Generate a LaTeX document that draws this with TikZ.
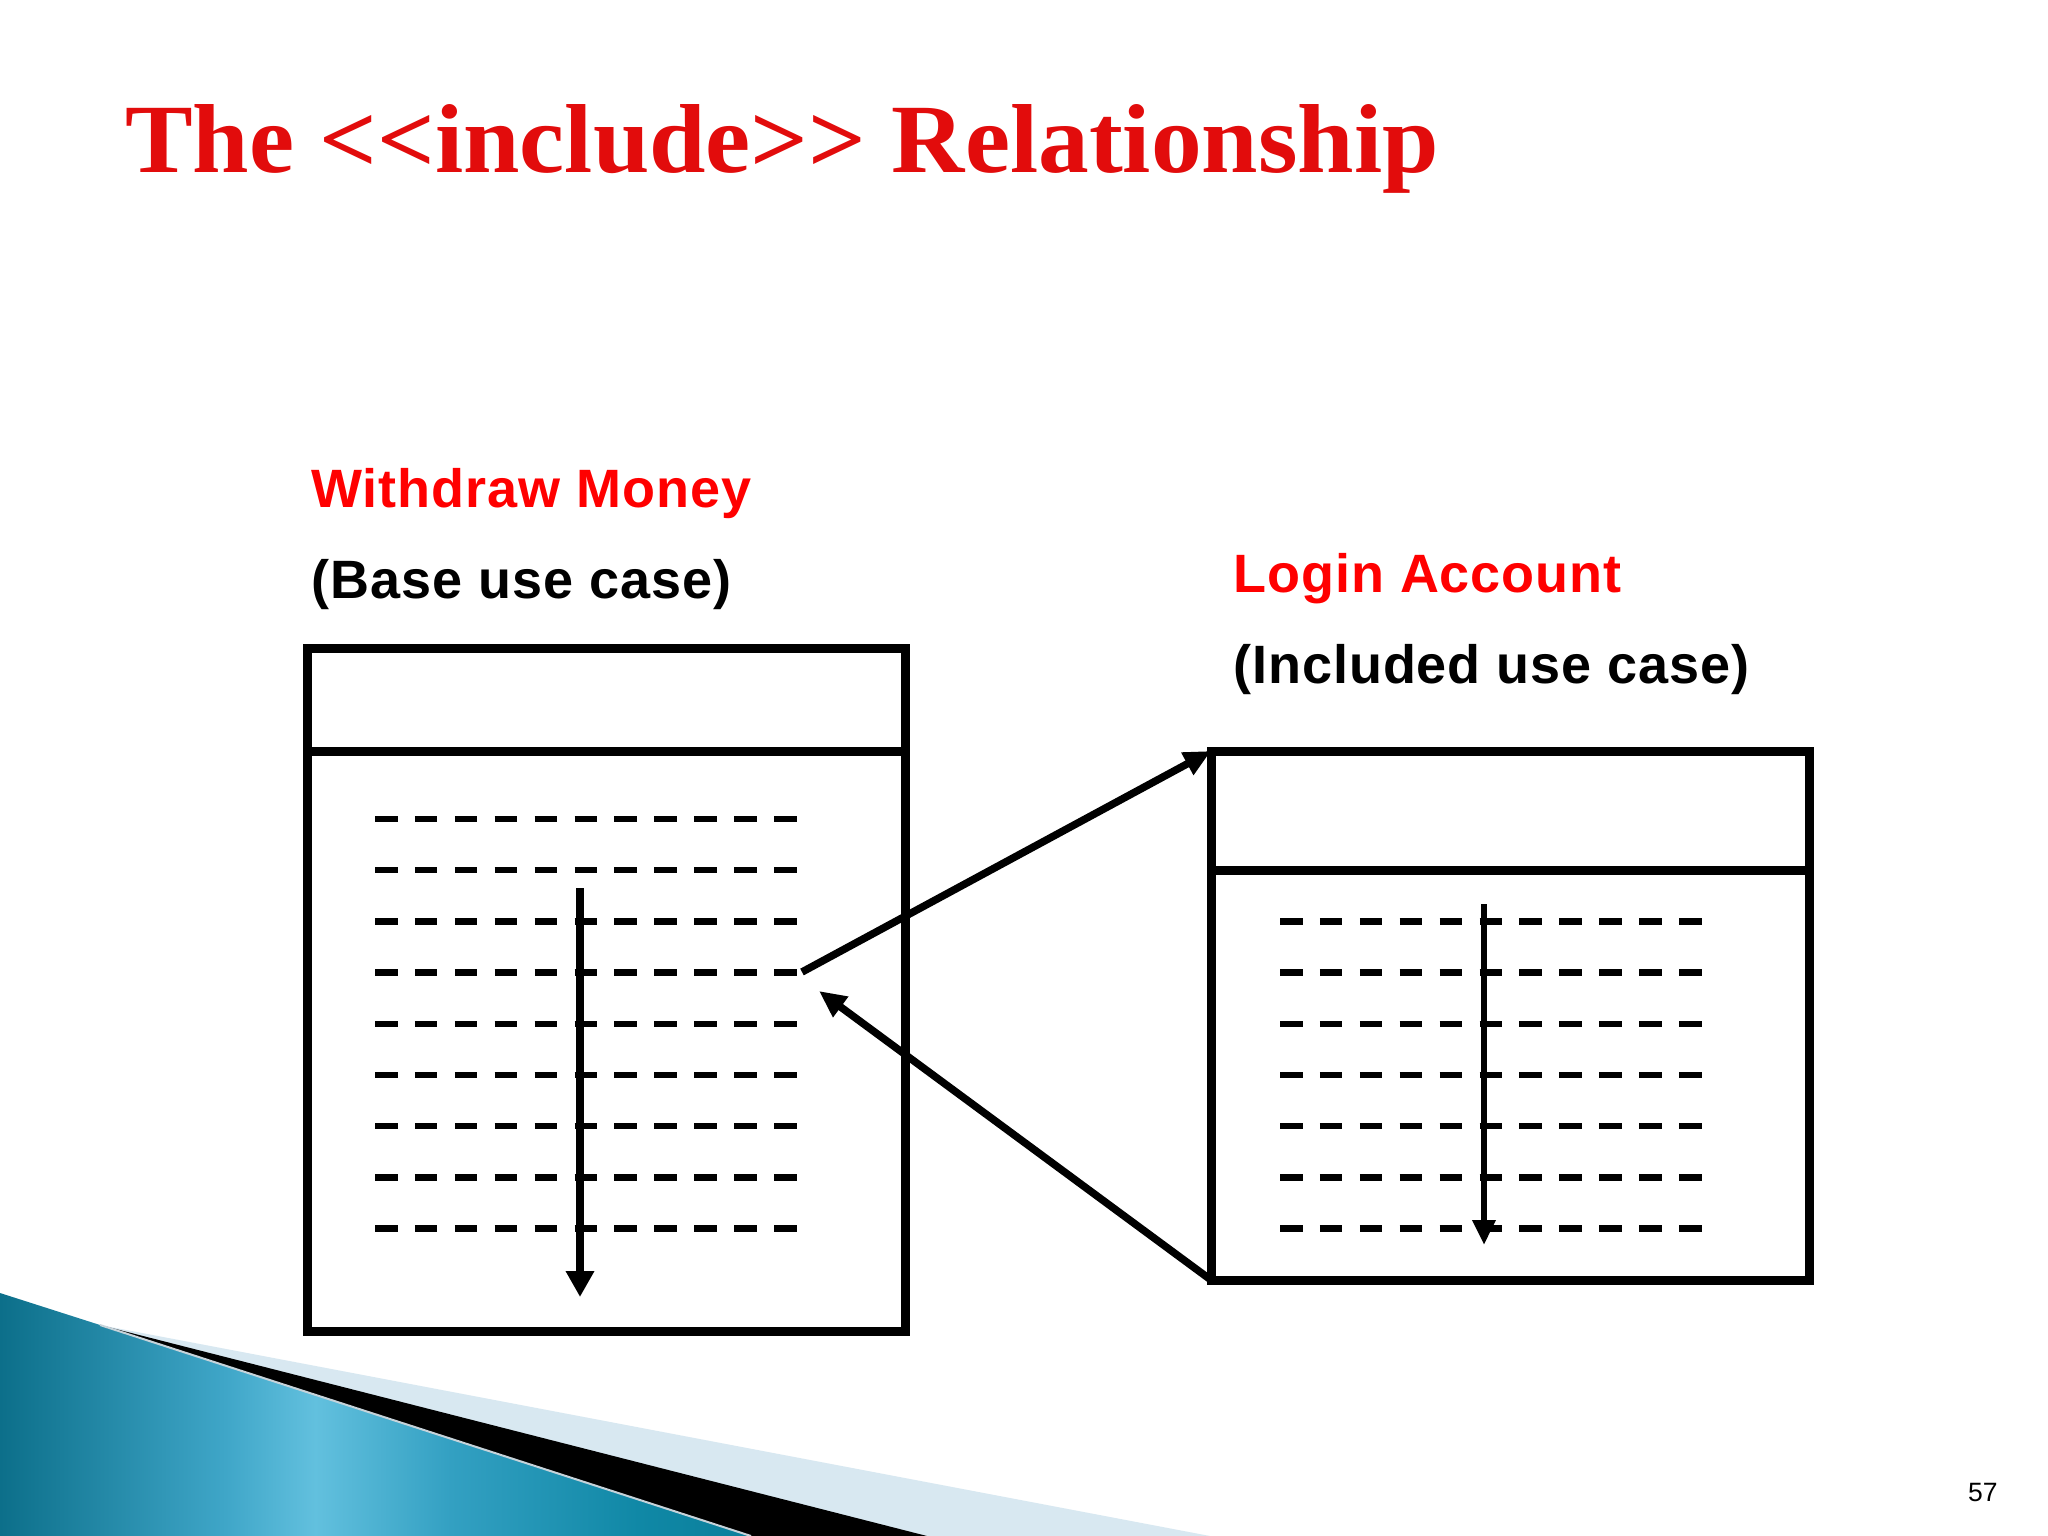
\documentclass[tikz,border=0pt]{standalone}
\usepackage{fontspec}
\setmainfont{Liberation Sans}
\newfontfamily\titlefont{Liberation Serif}
\newfontfamily\bodyfont[LetterSpace=1.8]{Liberation Sans}
\usetikzlibrary{arrows.meta}
\definecolor{titlered}{RGB}{226,12,12}
\definecolor{labelred}{RGB}{255,0,0}
\definecolor{tealA}{RGB}{12,111,138}
\definecolor{tealB}{RGB}{63,166,200}
\definecolor{tealC}{RGB}{98,192,222}
\definecolor{tealD}{RGB}{51,160,194}
\definecolor{tealE}{RGB}{16,136,166}
\definecolor{tealF}{RGB}{10,127,155}
\definecolor{paleblue}{RGB}{216,232,241}
\pgfdeclarehorizontalshading{tealshade}{100bp}{color(0bp)=(tealA); color(25bp)=(tealA); color(40bp)=(tealB); color(46bp)=(tealC); color(55bp)=(tealD); color(67.5bp)=(tealE); color(75bp)=(tealF); color(100bp)=(tealF)}
\tikzset{
  ucbox/.style={draw=black, line width=9pt, inner sep=0pt, outer sep=0pt, fill=white},
  divider/.style={line width=9pt},
  dashrow/.style={line width=6.5pt, dash pattern=on 22.5pt off 17.4pt},
  flow/.style={line width=8pt, -{Triangle[length=26pt,width=27pt]}},
  flowthin/.style={line width=6.5pt, -{Triangle[length=25pt,width=22pt]}},
  rel/.style={line width=7.5pt, -{Triangle[length=27pt,width=24pt]}},
  lbl/.style={anchor=base west, inner sep=0pt, font=\bodyfont\bfseries\fontsize{54}{60}\selectfont},
  ttl/.style={anchor=base west, inner sep=0pt, font=\titlefont\bfseries\fontsize{98}{110}\selectfont}
}
\begin{document}
\begin{tikzpicture}[x=1pt,y=-1pt]
\useasboundingbox (0,0) rectangle (2048,1536);
\fill[white] (0,0) rectangle (2048,1536);

% bottom-left decoration
\fill[paleblue] (100,1325) -- (1210,1536) -- (0,1536) -- (0,1300) -- cycle;
\fill[black] (100,1325) -- (927,1536) -- (0,1536) -- cycle;
\shade[shading=tealshade]
  (0,1293) -- (100,1325) -- (751,1536) -- (0,1536) -- cycle;
\draw[line width=2pt, paleblue!80!gray] (100,1325) -- (751,1536);

% title
\node[ttl, text=titlered] (title) at (125,172) {\scalebox{1.035}[1]{The <\kern0pt<include>\kern0pt> Relationship}};

% labels
\node[lbl, text=labelred] (wm) at (311,507) {Withdraw Money};
\node[lbl] (basecase) at (311,598) {(Base use case)};
\node[lbl, text=labelred] (la) at (1233,592) {Login Account};
\node[lbl] (inccase) at (1233,683) {(Included use case)};

% base use case box
\node[ucbox, minimum width=598pt, minimum height=683pt] (basebox) at (606,989.5) {};
\coordinate (basediv) at (307,751);
\draw[divider] (basediv) -- (basediv -| basebox.east);
\foreach \k in {0,...,8}
  \draw[dashrow] (375,819+51.2*\k) -- (797,819+51.2*\k);
\coordinate (bflowtop) at (580,888);
\coordinate (bflowend) at (580,1297);
\draw[flow] (bflowtop) -- (bflowend);

% included use case box
\node[ucbox, minimum width=598pt, minimum height=529pt] (incbox) at (1510,1015.5) {};
\coordinate (incdiv) at (1211,870);
\draw[divider] (incdiv) -- (incdiv -| incbox.east);
\foreach \k in {2,...,8}
  \draw[dashrow] (1280,819+51.2*\k) -- (1702,819+51.2*\k);
\coordinate (iflowtop) at (1484,904);
\coordinate (iflowend) at (1484,1245);
\draw[flowthin] (iflowtop) -- (iflowend);

% include relationship arrows
\coordinate (callpt) at (802,972);
\coordinate (retpt) at (819,991);
\draw[rel] (callpt) -- (incbox.north west);
\draw[rel] (incbox.south west) -- (retpt);

% page number
\node[anchor=base west, inner sep=0pt, font=\fontsize{26.5}{30}\selectfont] (pagenum) at (1968,1501) {57};
\end{tikzpicture}
\end{document}
